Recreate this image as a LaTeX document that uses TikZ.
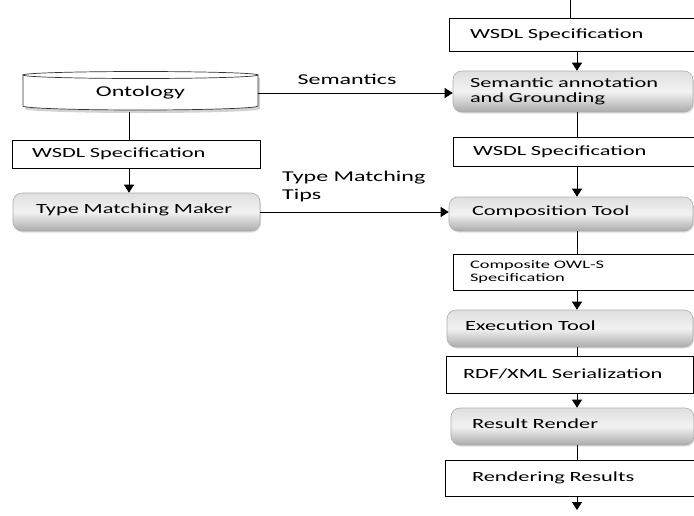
\documentclass[tikz,border=0pt]{standalone}
\usepackage{fontspec}
\setmainfont{Carlito}[FakeStretch=1.6]
\usetikzlibrary{arrows.meta,shadows}

\tikzset{
  link/.style={draw=black, line width=0.9pt},
  tip/.style={link, -{Triangle[width=10pt,length=8pt]}},
  boxtext/.style={inner ysep=0pt, align=left, font=\fontsize{14}{16}\selectfont},
  oneline/.style={text height=10pt, text depth=3pt},
  raised/.style={text height=10pt, text depth=7pt},
  databox/.style={boxtext, rectangle, draw=black, line width=0.8pt, fill=white, inner xsep=20pt},
  toolbox/.style={boxtext, rectangle, rounded corners=9pt, draw=gray!65, line width=0.6pt,
    top color=gray!25, bottom color=gray!66, middle color=white!90!gray,
    drop shadow={shadow xshift=1pt, shadow yshift=-1.5pt, opacity=0.25},
    inner xsep=20pt},
  flowlabel/.style={inner sep=0pt, align=left, font=\fontsize{15}{18}\selectfont}
}

\begin{document}
\begin{tikzpicture}[x=1pt, y=-1pt]
  \path[fill=white] (0,0) rectangle (694,515);
  \useasboundingbox (0,0) rectangle (694,515);

  % ontology store drawn as a cylinder
  \path[fill=gray!35] (25,78) -- (25,109) arc[start angle=180, end angle=360, x radius=117.5pt, y radius=4pt] -- (260,78) -- cycle;
  \path[draw=black!80, line width=0.7pt, fill=white] (23,75) -- (23,106)
    arc[start angle=180, end angle=360, x radius=117.5pt, y radius=4pt] -- (258,75) -- cycle;
  \draw[black!80, line width=0.7pt, fill=white] (140.5,75) ellipse[x radius=117.5pt, y radius=3.5pt];
  \node[minimum width=235pt, minimum height=38pt, inner sep=0pt, oneline,
        font=\fontsize{15}{18}\selectfont] (onto) at (140.5,93) {Ontology};

  % left column
  \node[databox, oneline, minimum width=248pt, minimum height=28pt, text width=208pt] (wsdlL) at (136,154) {WSDL Specification};
  \node[toolbox, raised, minimum width=247pt, minimum height=38pt, text width=201pt, inner xsep=23pt] (tmm) at (136.5,212) {Type Matching Maker};

  % right column
  \coordinate (feed) at (570,0);
  \coordinate (spine) at (577,0);
  \node[databox, oneline, minimum width=248pt, minimum height=33pt, text width=206pt, inner xsep=21pt] (wsdlA) at (573,34.5) {WSDL Specification};
  \node[toolbox, minimum width=240pt, minimum height=41pt, text width=206pt, inner xsep=17pt,
        font=\fontsize{14}{15}\selectfont] (sem) at (573,91.5) {Semantic annotation\\and Grounding};
  \node[databox, oneline, minimum width=244pt, minimum height=29pt, text width=204pt] (wsdlB) at (575,151.5) {WSDL Specification};
  \node[toolbox, raised, minimum width=244pt, minimum height=34pt, text width=198pt, inner xsep=23pt] (comp) at (571,214) {Composition Tool};
  \node[databox, minimum width=244pt, minimum height=36pt, text width=210pt, inner xsep=17pt,
        font=\fontsize{11.5}{12.5}\selectfont] (owls) at (575,272) {Composite OWL-S\\Specification};
  \node[toolbox, raised, minimum width=246pt, minimum height=37pt, text width=210pt, inner xsep=18pt] (exec) at (570,328.5) {Execution Tool};
  \node[databox, oneline, minimum width=247pt, minimum height=37pt, text width=213pt, inner xsep=17pt] (rdf) at (569.5,374.5) {RDF/XML Serialization};
  \node[toolbox, raised, minimum width=243pt, minimum height=37pt, text width=201pt, inner xsep=21pt] (render) at (572.5,426.5) {Result Render};
  \node[databox, oneline, minimum width=252pt, minimum height=36pt, text width=198pt, inner xsep=27pt] (results) at (571,478) {Rendering Results};
  \coordinate (out) at (577,510);

  % connectors
  \draw[link] (onto.south -| 129,0) -- (wsdlL.north -| 129,0);
  \draw[tip] (wsdlL.south -| 129,0) -- (tmm.north -| 129,0);
  \draw[tip] (onto.east) -- (onto.east -| sem.west);
  \draw[tip] (tmm.east) -- (tmm.east -| comp.west);

  \draw[link] (feed) -- (feed |- wsdlA.north);
  \draw[tip] (wsdlA.south -| spine) -- (sem.north -| spine);
  \draw[link] (sem.south -| spine) -- (wsdlB.north -| spine);
  \draw[tip] (wsdlB.south -| spine) -- (comp.north -| spine);
  \draw[link] (comp.south -| spine) -- (owls.north -| spine);
  \draw[tip] (owls.south -| spine) -- (exec.north -| spine);
  \draw[link] (exec.south -| spine) -- (rdf.north -| spine);
  \draw[tip] (rdf.south -| spine) -- (render.north -| spine);
  \draw[link] (render.south -| spine) -- (results.north -| spine);
  \draw[tip] (results.south -| spine) -- (out);

  % connector labels
  \node[flowlabel] (lblsem) at (347,79) {Semantics};
  \node[flowlabel, anchor=north west] (lbltips) at (282,171) {Type Matching\\Tips};
\end{tikzpicture}
\end{document}
